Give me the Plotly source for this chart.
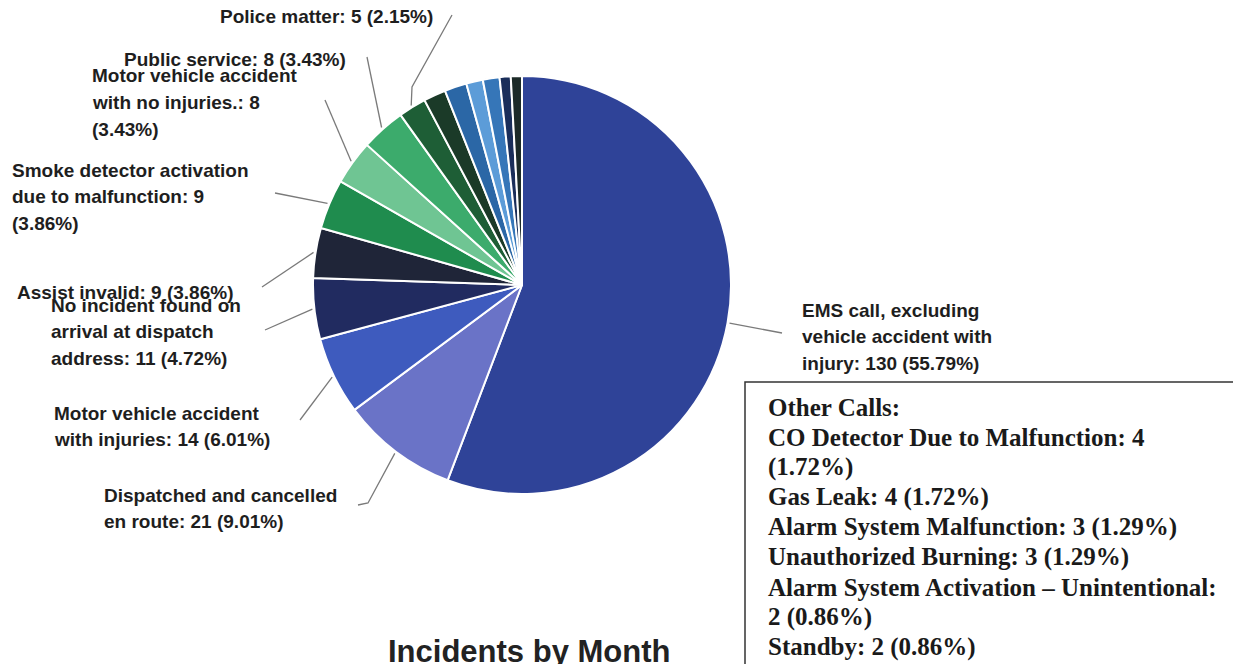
import math
import textwrap
import plotly.graph_objects as go

# ---------------- data ----------------
categories = [
    "EMS call, excluding vehicle accident with injury",
    "Dispatched and cancelled en route",
    "Motor vehicle accident with injuries",
    "No incident found on arrival at dispatch address",
    "Assist invalid",
    "Smoke detector activation due to malfunction",
    "Motor vehicle accident with no injuries.",
    "Public service",
    "Police matter",
    "CO Detector Due to Malfunction",
    "Gas Leak",
    "Alarm System Malfunction",
    "Unauthorized Burning",
    "Alarm System Activation \u2013 Unintentional",
    "Standby",
]
counts = [130, 21, 14, 11, 9, 9, 8, 8, 5, 4, 4, 3, 3, 2, 2]
slice_colors = [
    "#2f4398", "#6a73c7", "#3e5bbe", "#212b60", "#1f2538",
    "#1f8c4e", "#6fc593", "#3cab6c", "#1e5e36", "#1b3a28",
    "#2b67a6", "#5c9cd8", "#3676b8", "#1a2e5a", "#1c2a28",
]
n_labelled = 9          # the first 9 categories get callout labels
box_heading = "Other Calls:"
title_text = "Incidents by Month"

# ---------------- layout constants ----------------
W, H = 1241, 664
OFF = 8                      # page body margin of the html page
CX, CY, R = 522, 285, 209   # pie centre and radius in page pixels


def px(x):
    return (x - OFF) / W


def py(y):
    return 1 - (y - OFF) / H


total = sum(counts)


def pct(v):
    return f"{v / total * 100:.2f}%"


def label_of(i):
    return f"{categories[i]}: {counts[i]} ({pct(counts[i])})"


fig = go.Figure()
fig.add_trace(go.Pie(
    labels=categories,
    values=counts,
    sort=False,
    direction="clockwise",
    rotation=0,
    textinfo="none",
    marker=dict(colors=slice_colors, line=dict(color="white", width=2)),
    domain=dict(x=[px(CX - R), px(CX + R)], y=[py(CY + R), py(CY - R)]),
    showlegend=False,
    hovertemplate="%{label}: %{value} (%{percent})<extra></extra>",
))

# callout placement (layout only): left x, first-line centre y, wrap width, leader points
callouts = [
    dict(x=800, y=310, wrap=21, pts=[(782, 333)]),
    dict(x=102, y=495, wrap=24, pts=[(368, 503), (358, 505)]),
    dict(x=52, y=413, wrap=25, pts=[(300, 420)]),
    dict(x=49, y=305, wrap=20, pts=[(265, 330)]),
    dict(x=15, y=292, wrap=40, pts=[(262, 287)]),
    dict(x=10, y=170, wrap=25, pts=[(275, 193)]),
    dict(x=90, y=76, wrap=22, pts=[(325, 100)]),
    dict(x=122, y=60, wrap=40, pts=[(367, 57)]),
    dict(x=218, y=17, wrap=40, pts=[(412, 87), (452, 15)]),
]
LINE_GAP = 26.5
annotations = []
shapes = []
cum = 0
for i, v in enumerate(counts):
    mid = (cum + v / 2) / total * 2 * math.pi
    cum += v
    if i >= n_labelled:
        continue
    c = callouts[i]
    lines = textwrap.wrap(label_of(i), width=c["wrap"])
    for k, ln in enumerate(lines):
        annotations.append(dict(
            x=px(c["x"]), y=py(c["y"] + k * LINE_GAP), xref="paper", yref="paper",
            text=f"<b>{ln}</b>", showarrow=False, xanchor="left", yanchor="middle",
            font=dict(family="Liberation Sans, Arial", size=19, color="#1e1e1e"),
        ))
    tx = CX + (R + 2) * math.sin(mid)
    ty = CY - (R + 2) * math.cos(mid)
    path = f"M {px(tx)},{py(ty)}" + "".join(f" L {px(a)},{py(b)}" for a, b in c["pts"])
    shapes.append(dict(type="path", path=path, xref="paper", yref="paper",
                       line=dict(color="#7a7a7a", width=1.3)))

# "Other Calls" box
box_lines = [box_heading]
for i in range(n_labelled, len(counts)):
    box_lines += textwrap.wrap(label_of(i), width=40)
BOX_X0, BOX_X1, BOX_TOP = 745, 1234, 382
for k, ln in enumerate(box_lines):
    annotations.append(dict(
        x=px(766), y=py(407 + k * 30), xref="paper", yref="paper",
        text=f"<b>{ln}</b>", showarrow=False, xanchor="left", yanchor="middle",
        font=dict(family="Liberation Serif, Times New Roman", size=25, color="#1a1a1a"),
    ))
shapes.append(dict(type="rect", xref="paper", yref="paper",
                   x0=px(BOX_X0), x1=px(BOX_X1), y0=py(BOX_TOP), y1=py(H + 40),
                   line=dict(color="#333333", width=1.5), fillcolor="rgba(0,0,0,0)"))

# title
annotations.append(dict(
    x=px(529), y=py(651), xref="paper", yref="paper",
    text=f"<b>{title_text}</b>", showarrow=False, xanchor="center", yanchor="middle",
    font=dict(family="Liberation Sans, Arial", size=31, color="#222222"),
))

fig.update_layout(
    width=W, height=H,
    margin=dict(l=0, r=0, t=0, b=0),
    paper_bgcolor="white", plot_bgcolor="white",
    annotations=annotations, shapes=shapes,
)
fig.write_html("out.html")
